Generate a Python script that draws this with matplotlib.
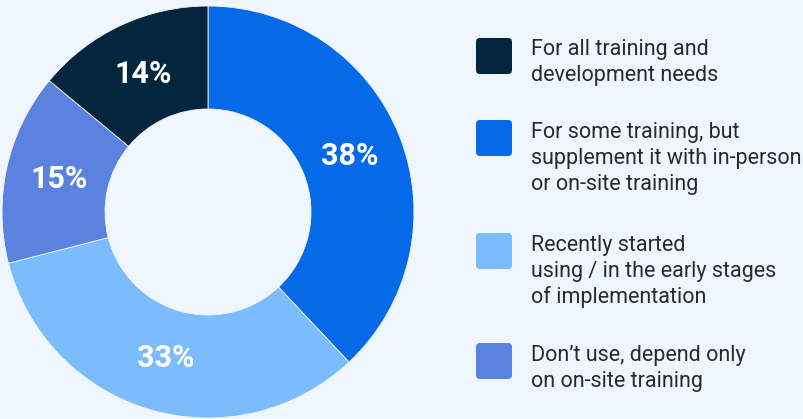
import matplotlib
matplotlib.use("Agg")
from matplotlib import pyplot as plt
from matplotlib.patches import FancyBboxPatch

# slices, clockwise from 12 o'clock
slice_values = [38, 33, 15, 14]
slice_colors = ["#066AE8", "#7ABCFC", "#5B82DF", "#03253D"]

# legend, top to bottom
legend_labels = [
    "For all training and\ndevelopment needs",
    "For some training, but\nsupplement it with in-person\nor on-site training",
    "Recently started\nusing / in the early stages\nof implementation",
    "Don\u2019t use, depend only\non on-site training",
]
legend_colors = ["#03253D", "#066AE8", "#7ABCFC", "#5B82DF"]

BG = "#EFF6FE"
W, H = 804, 419

plt.rcParams["font.family"] = ["Roboto", "DejaVu Sans"]

fig = plt.figure(figsize=(W / 100, H / 100), dpi=100, facecolor=BG)

# donut: center (208, 212) px, radius 206 px
cx, cy, r = 208, 212, 206
ax = fig.add_axes([(cx - r) / W, (H - cy - r) / H, 2 * r / W, 2 * r / H])
ax.set_facecolor(BG)
wedges, texts = ax.pie(
    slice_values,
    colors=slice_colors,
    startangle=90,
    counterclock=False,
    radius=1,
    wedgeprops=dict(width=0.5, edgecolor=BG, linewidth=0.6),
    labels=[f"{v}%" for v in slice_values],
    labeldistance=0.74,
    textprops=dict(color="white", fontsize=22, fontweight="bold",
                   ha="center", va="center"),
)
ax.set_xlim(-1, 1)
ax.set_ylim(-1, 1)
ax.set_aspect("equal")
ax.axis("off")

# legend drawn in pixel coordinates
lax = fig.add_axes([0, 0, 1, 1])
lax.set_xlim(0, W)
lax.set_ylim(H, 0)
lax.axis("off")
lax.patch.set_alpha(0)

square_tops = [38, 120, 233, 343]
for top, label, color in zip(square_tops, legend_labels, legend_colors):
    lax.add_patch(FancyBboxPatch((476, top), 36, 36,
                                 boxstyle="round,pad=0,rounding_size=4",
                                 facecolor=color, edgecolor="none"))
    for i, line in enumerate(label.split("\n")):
        lax.text(531, top + 17.5 + 26 * i, line, fontsize=15.5,
                 color="#2A2A2A", ha="left", va="baseline")

fig.savefig("out.png", dpi=100, facecolor=BG)
